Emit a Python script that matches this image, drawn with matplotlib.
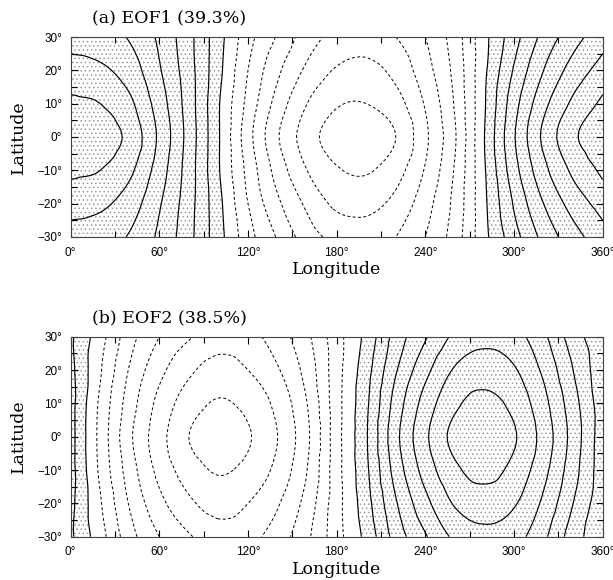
import numpy as np
import matplotlib
matplotlib.use('Agg')
import matplotlib.pyplot as plt
import matplotlib.tri as mtri

lon = [0, 20, 40, 60, 80, 100, 120, 140, 160, 180, 200, 220, 240, 260, 280, 300, 320, 340, 360]
lat = [-30, -20, -10, 0, 10, 20, 30]

# EOF1 values, one row per latitude (south to north)
eof1_s30 = [5.6, 5.4, 4.9, 3.8, 2.3, 0.4, -1.6, -3.1, -4.5, -5.3, -5.5, -5.0, -4.0, -2.5, -0.3, 1.6, 3.3, 4.6, 5.6]
eof1_s20 = [6.4, 6.2, 5.5, 4.1, 2.4, 0.3, -2.0, -3.8, -5.2, -6.2, -6.3, -5.7, -4.4, -2.7, -0.2, 2.1, 4.0, 5.4, 6.4]
eof1_s10 = [7.2, 7.0, 6.2, 4.5, 2.5, 0.1, -2.3, -4.4, -6.0, -6.9, -7.1, -6.4, -4.9, -2.9, -0.1, 2.6, 4.7, 6.2, 7.2]
eof1_eq = [7.7, 7.5, 6.7, 4.8, 2.6, 0.1, -2.6, -4.9, -6.5, -7.5, -7.6, -7.0, -5.2, -3.1, 0.0, 2.9, 5.2, 6.8, 7.7]
eof1_n10 = [7.2, 7.0, 6.2, 4.5, 2.5, 0.1, -2.3, -4.4, -6.0, -6.9, -7.0, -6.4, -4.9, -2.9, -0.1, 2.6, 4.7, 6.2, 7.2]
eof1_n20 = [6.4, 6.2, 5.5, 4.1, 2.4, 0.3, -2.0, -3.8, -5.2, -6.1, -6.3, -5.7, -4.4, -2.7, -0.2, 2.1, 4.0, 5.4, 6.4]
eof1_n30 = [5.6, 5.4, 4.9, 3.8, 2.3, 0.4, -1.6, -3.1, -4.5, -5.3, -5.5, -5.0, -4.0, -2.5, -0.3, 1.6, 3.3, 4.6, 5.6]

# EOF2 values
eof2_s30 = [1.2, -0.6, -2.6, -4.0, -4.9, -5.5, -5.3, -4.5, -3.2, -1.4, 0.3, 2.4, 3.9, 5.2, 5.7, 5.4, 4.2, 2.5, 1.2]
eof2_s20 = [1.3, -0.9, -3.1, -4.7, -5.8, -6.4, -6.0, -5.1, -3.6, -1.4, 0.6, 2.9, 4.7, 6.1, 6.5, 6.1, 4.8, 3.0, 1.3]
eof2_s10 = [1.4, -1.2, -3.5, -5.3, -6.5, -7.1, -6.7, -5.7, -4.0, -1.4, 0.8, 3.4, 5.4, 6.8, 7.3, 6.7, 5.3, 3.4, 1.4]
eof2_eq = [1.4, -1.3, -3.8, -5.6, -7.0, -7.6, -7.1, -6.0, -4.2, -1.4, 0.9, 3.7, 5.8, 7.3, 7.7, 7.1, 5.6, 3.6, 1.4]
eof2_n10 = [1.4, -1.2, -3.5, -5.3, -6.5, -7.1, -6.7, -5.7, -4.0, -1.4, 0.8, 3.4, 5.4, 6.8, 7.3, 6.7, 5.3, 3.4, 1.4]
eof2_n20 = [1.3, -0.9, -3.1, -4.7, -5.8, -6.4, -6.0, -5.1, -3.6, -1.4, 0.6, 2.9, 4.7, 6.1, 6.5, 6.1, 4.8, 3.0, 1.3]
eof2_n30 = [1.2, -0.6, -2.6, -4.0, -4.9, -5.5, -5.3, -4.5, -3.2, -1.4, 0.3, 2.4, 3.9, 5.2, 5.7, 5.4, 4.2, 2.5, 1.2]

pos_levels = [0, 1, 2, 3, 4, 5, 6, 7]
neg_levels = [-7, -6, -5, -4, -3, -2, -1]

xticks = [0, 60, 120, 180, 240, 300, 360]
xtick_labels = ['0°', '60°', '120°', '180°', '240°', '300°', '360°']
yticks = [-30, -20, -10, 0, 10, 20, 30]
ytick_labels = ['\u221230°', '\u221220°', '\u221210°', '0°', '10°', '20°', '30°']

plt.rcParams['hatch.color'] = '#9a9a9a'
plt.rcParams['hatch.linewidth'] = 0.6

fig = plt.figure(figsize=(6.13, 5.80), dpi=100)
ax1 = fig.add_axes([0.1153, 0.5914, 0.8679, 0.3448])
ax2 = fig.add_axes([0.1153, 0.0747, 0.8679, 0.3448])


def draw_panel(ax, rows, title):
    z = np.array(rows, dtype=float)
    X, Y = np.meshgrid(lon, lat)
    tri = mtri.Triangulation(X.ravel(), Y.ravel())
    interp = mtri.CubicTriInterpolator(tri, z.ravel(), kind='geom')
    refiner = mtri.UniformTriRefiner(tri)
    tri_f, z_f = refiner.refine_field(z.ravel(), triinterpolator=interp, subdiv=4)

    ax.tricontourf(tri_f, z_f, levels=[0, 50], colors='none', hatches=['....'])
    ax.tricontour(tri_f, z_f, levels=pos_levels, colors='k', linewidths=0.85,
                  linestyles='solid')
    ax.tricontour(tri_f, z_f, levels=neg_levels, colors='k', linewidths=0.7,
                  linestyles=[(0, (3, 2.5))])

    ax.set_xlim(0, 360)
    ax.set_ylim(-30, 30)
    ax.set_xticks(xticks)
    ax.set_xticklabels(xtick_labels)
    ax.set_xticks([30, 90, 150, 210, 270, 330], minor=True)
    ax.set_yticks(yticks)
    ax.set_yticklabels(ytick_labels)
    ax.set_yticks([-25, -15, -5, 5, 15, 25], minor=True)
    ax.tick_params(which='both', direction='in', top=True, right=True,
                   width=0.8, labelsize=8.5, color='k')
    ax.tick_params(which='major', length=5)
    ax.tick_params(which='minor', length=4)
    ax.tick_params(axis='x', pad=7)
    ax.tick_params(axis='y', pad=6)
    for lab in ax.get_xticklabels() + ax.get_yticklabels():
        lab.set_family('Liberation Sans')
    for sp in ax.spines.values():
        sp.set_linewidth(0.8)
        sp.set_color('#444444')

    ax.text(0.04, 1.095, title, transform=ax.transAxes, family='DejaVu Serif',
            fontsize=12.5, ha='left', va='center')
    ax.text(-0.099, 0.5, 'Latitude', transform=ax.transAxes, family='DejaVu Serif',
            fontsize=12.5, rotation=90, ha='center', va='center')
    ax.text(0.5, -0.165, 'Longitude', transform=ax.transAxes, family='DejaVu Serif',
            fontsize=12.5, ha='center', va='center')


draw_panel(ax1, [eof1_s30, eof1_s20, eof1_s10, eof1_eq, eof1_n10, eof1_n20, eof1_n30],
           '(a) EOF1 (39.3%)')
draw_panel(ax2, [eof2_s30, eof2_s20, eof2_s10, eof2_eq, eof2_n10, eof2_n20, eof2_n30],
           '(b) EOF2 (38.5%)')

fig.savefig('out.png', dpi=100)
